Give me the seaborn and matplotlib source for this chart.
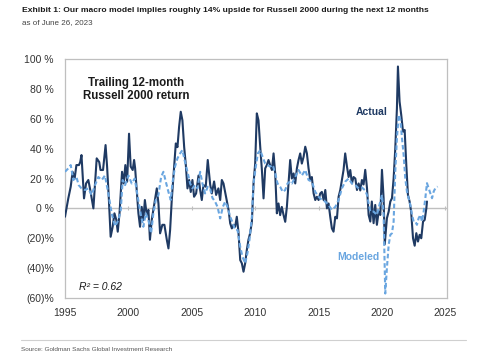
import matplotlib
matplotlib.use("Agg")
import matplotlib.pyplot as plt
import seaborn as sns
import pandas as pd

# ---------------- data ----------------
actual_dates = [
    1995.00, 1995.26, 1995.45, 1995.60, 1995.76, 1995.90, 1996.10, 1996.20, 1996.30, 1996.50,
    1996.66, 1996.84, 1997.00, 1997.24, 1997.50, 1997.70, 1997.80, 1998.00, 1998.20, 1998.32,
    1998.45, 1998.60, 1998.76, 1998.90, 1999.05, 1999.16, 1999.30, 1999.50, 1999.63, 1999.76,
    1999.90, 2000.05, 2000.18, 2000.34, 2000.45, 2000.53, 2000.64, 2000.79, 2000.92, 2001.05,
    2001.18, 2001.30, 2001.45, 2001.58, 2001.70, 2001.84, 2001.97, 2002.10, 2002.24, 2002.37,
    2002.50, 2002.68, 2002.84, 2003.03, 2003.16, 2003.29, 2003.42, 2003.61, 2003.74, 2003.87,
    2004.00, 2004.13, 2004.26, 2004.40, 2004.53, 2004.66, 2004.79, 2004.92, 2005.05, 2005.18,
    2005.34, 2005.53, 2005.66, 2005.79, 2005.92, 2006.10, 2006.26, 2006.45, 2006.58, 2006.76,
    2006.92, 2007.10, 2007.24, 2007.37, 2007.50, 2007.63, 2007.76, 2007.90, 2008.03, 2008.16,
    2008.29, 2008.42, 2008.55, 2008.68, 2008.82, 2008.95, 2009.08, 2009.21, 2009.34, 2009.47,
    2009.60, 2009.74, 2009.87, 2010.00, 2010.13, 2010.26, 2010.40, 2010.53, 2010.66, 2010.79,
    2010.92, 2011.05, 2011.18, 2011.32, 2011.45, 2011.58, 2011.71, 2011.84, 2011.97, 2012.10,
    2012.24, 2012.37, 2012.50, 2012.63, 2012.76, 2012.89, 2013.03, 2013.16, 2013.29, 2013.42,
    2013.55, 2013.68, 2013.82, 2013.95, 2014.08, 2014.21, 2014.34, 2014.47, 2014.61, 2014.74,
    2014.87, 2015.00, 2015.13, 2015.26, 2015.40, 2015.53, 2015.66, 2015.79, 2015.92, 2016.05,
    2016.18, 2016.32, 2016.45, 2016.58, 2016.71, 2016.84, 2016.97, 2017.10, 2017.24, 2017.37,
    2017.50, 2017.63, 2017.76, 2017.90, 2018.03, 2018.16, 2018.29, 2018.42, 2018.55, 2018.68,
    2018.82, 2018.95, 2019.08, 2019.20, 2019.34, 2019.47, 2019.60, 2019.74, 2019.87, 2020.00,
    2020.13, 2020.22, 2020.39, 2020.53, 2020.66, 2020.79, 2020.92, 2021.05, 2021.18, 2021.26,
    2021.39, 2021.52, 2021.66, 2021.79, 2021.92, 2022.05, 2022.18, 2022.30, 2022.45, 2022.58,
    2022.71, 2022.84, 2022.97, 2023.10, 2023.24, 2023.37, 2023.50, 2023.55,
]
actual_values = [
    -5.6, 6.7, 14.5, 24.5, 20.0, 29.0, 29.0, 31.0, 35.7, 6.7,
    16.7, 19.0, 12.0, 0.0, 33.5, 31.0, 25.7, 25.7, 42.4, 28.0,
    7.8, -19.0, -12.3, -3.3, -7.8, -15.6, -3.3, 24.5, 16.7, 29.0,
    17.9, 50.0, 28.0, 25.7, 32.4, 27.0, 14.5, -3.3, -12.3, 1.0,
    -7.8, 5.6, -4.5, -1.0, -21.0, -7.8, -1.0, 5.6, 13.4, 3.3,
    -16.7, -11.0, -11.0, -21.0, -26.8, -14.5, 5.6, 28.0, 43.5, 41.0,
    54.7, 64.7, 59.0, 41.0, 29.0, 13.4, 19.0, 11.0, 19.0, 7.8,
    10.0, 22.0, 12.3, 5.6, 15.6, 14.5, 32.4, 16.0, 10.0, 18.0,
    9.0, 13.4, 5.6, 19.0, 16.7, 11.0, 5.6, -1.0, -10.0, -13.4,
    -11.0, -12.3, -5.6, -15.6, -34.6, -36.8, -42.4, -36.8, -27.9, -21.0,
    -16.7, -9.0, 16.7, 30.0, 63.6, 59.0, 41.0, 25.7, 6.7, 26.8,
    29.0, 32.4, 29.0, 25.7, 36.8, 23.4, -3.3, 3.3, -4.5, 1.0,
    -4.5, -9.0, 1.0, 16.7, 32.4, 20.0, 23.4, 16.7, 26.8, 32.4,
    36.8, 30.0, 34.6, 41.3, 36.8, 26.8, 19.0, 21.0, 10.0, 5.6,
    7.8, 5.6, 10.0, 11.0, 5.6, 12.3, 0.0, 3.3, -5.6, -13.4,
    -15.6, -5.6, -6.7, 7.8, 12.3, 19.0, 25.7, 36.8, 28.0, 21.0,
    25.7, 16.7, 21.0, 20.0, 12.3, 16.7, 12.0, 19.0, 16.0, 25.8,
    13.5, -4.4, -8.8, 4.6, -9.9, 2.3, -11.0, -2.1, -4.4, 25.8,
    6.8, -24.0, -6.6, -2.1, 4.6, 6.8, 20.0, 40.0, 67.0, 95.0,
    71.5, 62.6, 51.4, 52.5, 29.0, 9.0, 4.6, -2.1, -20.0, -25.0,
    -16.6, -22.2, -17.7, -20.0, -8.8, -7.7, 0.0, 4.6,
]

modeled_dates = [
    1995.00, 1995.26, 1995.45, 1995.66, 1995.90, 1996.08, 1996.30, 1996.58, 1996.84, 1997.10,
    1997.37, 1997.63, 1997.90, 1998.15, 1998.42, 1998.68, 1998.95, 1999.20, 1999.40, 1999.55,
    1999.74, 2000.00, 2000.26, 2000.50, 2000.79, 2000.99, 2001.18, 2001.37, 2001.58, 2001.79,
    2001.97, 2002.16, 2002.37, 2002.58, 2002.76, 2002.95, 2003.16, 2003.34, 2003.47, 2003.68,
    2003.87, 2004.08, 2004.26, 2004.47, 2004.66, 2004.87, 2005.05, 2005.26, 2005.45, 2005.66,
    2005.84, 2006.05, 2006.26, 2006.45, 2006.63, 2006.84, 2007.03, 2007.24, 2007.45, 2007.63,
    2007.82, 2008.03, 2008.24, 2008.42, 2008.61, 2008.82, 2009.00, 2009.21, 2009.39, 2009.55,
    2009.74, 2009.87, 2010.05, 2010.21, 2010.40, 2010.58, 2010.79, 2010.97, 2011.18, 2011.39,
    2011.58, 2011.76, 2011.97, 2012.18, 2012.37, 2012.55, 2012.76, 2012.90, 2013.16, 2013.42,
    2013.68, 2013.95, 2014.21, 2014.47, 2014.74, 2015.00, 2015.26, 2015.53, 2015.79, 2016.05,
    2016.32, 2016.58, 2016.84, 2017.10, 2017.37, 2017.63, 2017.90, 2018.16, 2018.42, 2018.68,
    2018.82, 2019.08, 2019.34, 2019.60, 2019.87, 2020.00, 2020.13, 2020.26, 2020.39, 2020.53,
    2020.66, 2020.79, 2020.92, 2021.05, 2021.18, 2021.32, 2021.45, 2021.58, 2021.71, 2021.84,
    2021.97, 2022.10, 2022.24, 2022.37, 2022.50, 2022.63, 2022.76, 2022.89, 2023.03, 2023.16,
    2023.29, 2023.42, 2023.55, 2023.68, 2023.82, 2023.95, 2024.08, 2024.21, 2024.39,
]
modeled_values = [
    24.5, 26.8, 29.0, 19.0, 21.0, 15.6, 13.4, 12.3, 13.4, 9.0,
    15.6, 21.0, 19.0, 22.0, 10.0, -3.3, -12.0, -8.0, -1.0, 19.0,
    15.6, 22.0, 16.7, 20.0, 5.0, -4.5, -12.3, -3.3, -7.8, -16.7,
    -3.3, 5.6, 9.0, 21.0, 24.5, 17.9, 11.0, 5.6, 16.7, 28.0,
    33.5, 36.8, 39.0, 31.0, 24.5, 16.7, 13.4, 15.6, 13.4, 24.5,
    16.7, 10.0, 14.5, 13.0, 7.0, 4.5, 1.0, -6.7, 1.0, 4.5,
    1.0, -5.6, -10.0, -14.5, -14.5, -25.7, -32.4, -36.8, -30.0, -21.0,
    -5.6, 16.7, 28.0, 36.8, 39.0, 34.6, 30.0, 29.0, 28.0, 29.0,
    23.4, 16.7, 14.5, 11.0, 12.3, 16.7, 18.0, 16.7, 21.0, 25.7,
    22.0, 25.7, 19.0, 17.9, 11.0, 7.8, 5.6, 4.5, 2.2, -1.0,
    1.0, 5.6, 13.4, 17.9, 20.0, 16.7, 15.6, 13.4, 14.0, 12.0,
    9.0, -2.1, -2.1, -4.4, 4.6, 9.0, -4.4, -57.0, -40.0, -24.4,
    -17.7, -16.6, -8.8, 24.7, 47.0, 62.6, 59.2, 47.0, 35.8, 20.0,
    11.3, 6.8, 2.3, -4.4, -8.8, -8.8, -11.0, -6.6, -4.4, -8.8,
    -2.1, 6.8, 16.9, 13.5, 10.0, 6.8, 11.3, 13.5, 14.6,
]

y_ticks = [-60, -40, -20, 0, 20, 40, 60, 80, 100]
y_tick_labels = ["(60)%", "(40)%", "(20)%", "0 %", "20 %", "40 %", "60 %", "80 %", "100 %"]
x_ticks = [1995, 2000, 2005, 2010, 2015, 2020, 2025]

title = "Exhibit 1: Our macro model implies roughly 14% upside for Russell 2000 during the next 12 months"
subtitle = "as of June 26, 2023"
source = "Source: Goldman Sachs Global Investment Research"

# ---------------- style ----------------
sns.set_theme(style="white")
plt.rcParams["font.family"] = ["Liberation Sans", "DejaVu Sans"]

ACTUAL_C = "#1f3a63"
MODEL_C = "#6aa6e0"
FRAME_C = "#bfbfbf"
TEXT_C = "#333333"

fig = plt.figure(figsize=(5.0, 3.61), dpi=100)
ax = fig.add_axes([0.13, 0.1745, 0.764, 0.662])

df_a = pd.DataFrame({"date": actual_dates, "value": actual_values})
df_m = pd.DataFrame({"date": modeled_dates, "value": modeled_values})

ax.axhline(0, color=FRAME_C, lw=1.0, zorder=1)
ax.scatter(x_ticks, [0] * len(x_ticks), marker="|", s=12, color=FRAME_C, lw=0.8, zorder=1)

sns.lineplot(data=df_a, x="date", y="value", ax=ax, color=ACTUAL_C, lw=1.5,
             estimator=None, sort=False, zorder=3)
sns.lineplot(data=df_m, x="date", y="value", ax=ax, color=MODEL_C, lw=1.5,
             linestyle=(0, (2.2, 1.3)), estimator=None, sort=False, zorder=4)

ax.set_xlim(1995, 2025.13)
ax.set_ylim(-60, 100)
ax.set_yticks(y_ticks)
ax.set_yticklabels(y_tick_labels)
ax.set_xticks(x_ticks)
ax.set_xticklabels([str(t) for t in x_ticks])
ax.set_xlabel("")
ax.set_ylabel("")
ax.tick_params(axis="both", length=0, labelsize=7.5, labelcolor=TEXT_C)
ax.tick_params(axis="y", pad=8)
ax.tick_params(axis="x", pad=7)
for sp in ax.spines.values():
    sp.set_visible(True)
    sp.set_color(FRAME_C)
    sp.set_linewidth(0.9)

ax.text(2000.6, 79.5, "Trailing 12-month\nRussell 2000 return", ha="center", va="center",
        fontsize=8.3, fontweight="bold", color="#1a1a1a", linespacing=1.15)
ax.text(2019.15, 64.5, "Actual", ha="center", va="center", fontsize=7.5,
        fontweight="bold", color=ACTUAL_C)
ax.text(2018.13, -32.5, "Modeled", ha="center", va="center", fontsize=7.5,
        fontweight="bold", color=MODEL_C)
ax.text(1996.1, -52.5, "R² = 0.62", ha="left", va="center", fontsize=7.5,
        style="italic", color="#1a1a1a")

fig.text(0.044, 0.972, title, ha="left", va="center", fontsize=6.1, fontweight="bold",
         color="#1a1a1a")
fig.text(0.044, 0.937, subtitle, ha="left", va="center", fontsize=5.8,
         color="#444444")

fig.add_artist(plt.Line2D([0.042, 0.932], [0.058, 0.058], transform=fig.transFigure,
                          color="#d0d0d0", lw=0.8))
fig.text(0.042, 0.033, source, ha="left", va="center", fontsize=4.6, color="#555555")

fig.savefig("out.png", dpi=100, facecolor="white")
